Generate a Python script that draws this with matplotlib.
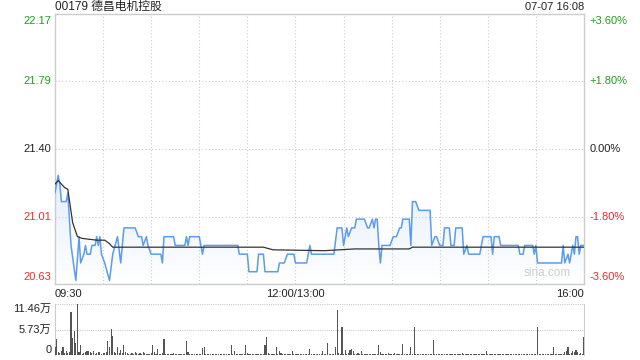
import matplotlib
matplotlib.use('Agg')
import matplotlib.pyplot as plt
import matplotlib.transforms as mtrans
from matplotlib.colors import LinearSegmentedColormap
import numpy as np

plt.rcParams['font.family'] = ['Liberation Sans', 'Noto Sans CJK SC']

# data (minutes since 09:30, lunch break removed)
title = '00179 德昌电机控股'
stamp = '07-07 16:08'
prev_close = 21.40
price_ticks = [20.63, 21.01, 21.40, 21.79, 22.17]
pct_labels = ['-3.60%', '-1.80%', '0.00%', '+1.80%', '+3.60%']
time_labels = ['09:30', '12:00/13:00', '16:00']
time_pos = [0, 150, 330]

price_min = [0, 2, 3, 4, 7, 8, 10, 13, 15, 16, 18, 19, 20, 22, 23, 25, 26, 27, 28, 29,
             31, 34, 36, 39, 41, 43, 50, 52, 54, 55, 57, 58, 60, 66, 67, 68, 74, 75, 81, 82,
             83, 84, 90, 91, 92, 93, 114, 115, 120, 121, 126, 127, 130, 131, 139, 140, 143, 145, 149, 150,
             157, 159, 160, 174, 176, 179, 180, 182, 183, 185, 187, 188, 193, 195, 196, 198, 199, 200, 201, 202,
             203, 204, 209, 211, 213, 215, 216, 217, 221, 222, 223, 225, 227, 234, 235, 237, 238, 240, 242, 243,
             246, 247, 249, 250, 254, 255, 257, 258, 265, 267, 272, 273, 274, 277, 278, 289, 290, 292, 293, 298,
             299, 300, 301, 316, 317, 318, 320, 321, 322, 323, 324, 325, 326, 327, 328, 330]
price_val = [21.15, 21.25, 21.20, 21.10, 21.10, 21.15, 20.85, 20.65, 20.90, 20.75, 20.80, 20.85, 20.80, 20.80, 20.85, 20.85, 20.90, 20.85, 20.90, 20.80,
             20.75, 20.65, 20.80, 20.90, 20.75, 20.95, 20.95, 20.90, 20.90, 20.85, 20.90, 20.85, 20.80, 20.80, 20.75, 20.90, 20.90, 20.85, 20.85, 20.90,
             20.85, 20.90, 20.90, 20.85, 20.80, 20.85, 20.85, 20.80, 20.80, 20.70, 20.70, 20.80, 20.80, 20.70, 20.70, 20.75, 20.75, 20.80, 20.80, 20.75,
             20.75, 20.85, 20.80, 20.80, 20.95, 20.95, 20.85, 20.95, 20.90, 20.95, 20.95, 21.00, 21.00, 20.95, 20.95, 21.00, 20.95, 21.00, 21.00, 20.85,
             20.75, 20.85, 20.85, 20.90, 20.90, 20.95, 20.95, 21.00, 21.00, 20.85, 21.10, 21.10, 21.05, 21.05, 20.85, 20.90, 20.90, 20.85, 20.85, 20.95,
             20.95, 20.85, 20.85, 20.95, 20.95, 20.80, 20.85, 20.80, 20.80, 20.90, 20.90, 20.80, 20.90, 20.90, 20.85, 20.85, 20.80, 20.80, 20.85, 20.85,
             20.80, 20.85, 20.75, 20.75, 20.85, 20.75, 20.80, 20.75, 20.80, 20.85, 20.80, 20.90, 20.90, 20.80, 20.85, 20.85]

avg_min = [0, 2, 4, 6, 8, 11, 14, 17, 26, 31, 34, 36, 130, 136, 168, 187, 221, 223, 330]
avg_val = [21.20, 21.22, 21.20, 21.18, 21.17, 20.98, 20.90, 20.89, 20.88, 20.88, 20.86, 20.84, 20.84, 20.825, 20.82, 20.83, 20.83, 20.84, 20.84]

# volume per minute, in 万 shares
volume = [1.8, 3.5, 0.6, 0.4, 0.8, 1.9, 0.5, 1.0, 0.4, 0.7, 9.7, 3.9, 5.5, 2.7, 11.46, 0.6, 2.2, 0.3, 0.4, 0.6,
          0.8, 0.8, 0.6, 0.5, 1.0, 0.3, 0.4, 0.6, 0.6, 0.3, 0.5, 0.4, 0.6, 3.1, 1.9, 5.8, 4.3, 0.6, 0.4, 1.9,
          0.5, 1.2, 0.4, 2.2, 0.6, 0.4, 0.3, 0.3, 0.4, 0.3, 0.6, 0.4, 0.3, 0.4, 0.2, 0.6, 0.4, 0.3, 0.2, 0.3,
          0.4, 2.2, 0.6, 0.3, 1.4, 0.3, 0.2, 0.4, 3.7, 0.3, 0.2, 0.3, 0.2, 0.2, 0.4, 0.2, 0.3, 0.2, 0.2, 0.3,
          0.2, 0.3, 3.1, 0.6, 0.3, 0.2, 0.2, 0.3, 0.2, 0.2, 0.2, 0.3, 1.6, 1.8, 0.3, 0.2, 0.2, 0.2, 0.3, 0.2,
          0.2, 0.2, 0.3, 0.2, 0.2, 0.2, 0.3, 0.2, 0.2, 0.2, 2.3, 0.2, 1.0, 0.3, 0.2, 0.2, 0.2, 0.3, 0.2, 2.2,
          0.5, 0.2, 0.2, 0.2, 0.3, 0.2, 0.2, 0.2, 0.2, 0.3, 0.2, 2.2, 4.0, 0.5, 0.3, 0.2, 0.3, 0.2, 1.9, 0.3,
          1.0, 0.4, 0.3, 0.2, 0.2, 0.2, 0.3, 0.2, 0.8, 0.2, 0.2, 0.2, 0.2, 0.3, 0.2, 0.2, 0.2, 0.3, 0.2, 1.4,
          0.2, 0.2, 0.2, 0.3, 0.2, 0.2, 0.3, 1.0, 0.2, 0.3, 2.7, 0.2, 0.3, 0.2, 0.3, 1.8, 10.0, 0.5, 0.3, 6.4,
          0.3, 1.2, 0.2, 0.4, 1.2, 1.3, 0.8, 0.3, 0.2, 0.5, 0.2, 1.0, 0.2, 0.2, 0.3, 0.2, 0.2, 0.2, 0.3, 0.2,
          0.2, 0.3, 2.2, 0.6, 0.2, 0.2, 0.3, 0.2, 0.4, 0.2, 0.3, 0.2, 0.5, 0.2, 0.3, 0.2, 0.2, 2.4, 0.3, 0.2,
          0.2, 0.3, 1.9, 0.3, 6.2, 0.2, 0.2, 0.2, 0.2, 0.2, 0.3, 0.2, 0.2, 0.2, 0.2, 0.3, 3.3, 0.2, 0.2, 0.2,
          0.2, 0.2, 0.2, 0.3, 0.2, 0.2, 0.2, 0.2, 0.2, 0.3, 0.2, 0.2, 0.2, 0.2, 0.4, 0.2, 0.2, 0.2, 0.2, 0.2,
          0.2, 0.3, 0.2, 0.2, 0.2, 0.2, 0.2, 0.3, 0.2, 0.8, 0.2, 0.2, 0.2, 0.2, 0.2, 0.3, 0.2, 0.2, 0.2, 0.2,
          0.2, 0.2, 0.3, 0.2, 0.2, 0.2, 0.2, 0.2, 0.3, 0.2, 0.2, 0.2, 0.2, 0.2, 0.3, 0.2, 0.2, 0.2, 0.2, 0.2,
          0.3, 6.2, 0.2, 0.2, 0.2, 0.2, 0.3, 0.2, 0.2, 0.3, 0.2, 1.9, 0.3, 0.2, 0.2, 0.2, 0.3, 0.2, 0.6, 1.0,
          1.9, 0.3, 0.5, 1.0, 0.6, 1.2, 0.6, 0.3, 0.4, 0.3, 4.0]
vol_ticks = [0, 5.73, 11.46]
vol_labels = ['0', '5.73万', '11.46万']

green = '#1e9e1e'
red = '#ee2a2a'
grid_c = '#cccccc'
fs = 8

fig = plt.figure(figsize=(6.4, 3.6), dpi=100)
ax = fig.add_axes([55 / 640, 76 / 360, 529 / 640, 270 / 360])

# faint blue gradient under the price line
fill = ax.fill_between(price_min, price_val, price_ticks[0], color='none', lw=0)
cmap = LinearSegmentedColormap.from_list('fade', ['#ffffff', '#e4eefc'])
grad = np.linspace(1, 0, 256).reshape(-1, 1)
img = ax.imshow(grad, extent=[0, 330, price_ticks[0], max(price_val)], aspect='auto',
                cmap=cmap, origin='upper', zorder=1)
img.set_clip_path(fill.get_paths()[0], transform=ax.transData)

ax.plot(price_min, price_val, color='#5b9bf0', lw=1.1, zorder=3)
ax.plot(avg_min, avg_val, color='#333333', lw=0.9, zorder=4)

ax.set_xlim(0, 330)
ax.set_ylim(price_ticks[0], price_ticks[-1])
ax.set_xticks(range(30, 330, 30))
ax.set_yticks(price_ticks[1:-1])
ax.grid(True, color=grid_c, ls=(0, (1, 2)), lw=0.8)
ax.tick_params(length=0, labelleft=False, labelbottom=False)
for s in ax.spines.values():
    s.set_color(grid_c)
    s.set_linewidth(1)

trans = mtrans.blended_transform_factory(ax.transAxes, ax.transData)
for i, (v, p) in enumerate(zip(price_ticks, pct_labels)):
    c = green if v > prev_close else (red if v < prev_close else '#222222')
    va = 'top' if i == len(price_ticks) - 1 else ('bottom' if i == 0 else 'center')
    off = -1.5 if va == 'top' else (1.5 if va == 'bottom' else 0)
    tr = trans + mtrans.ScaledTranslation(0, off / 72, fig.dpi_scale_trans)
    ax.text(-0.007, v, f'{v:.2f}', transform=tr, ha='right', va=va, color=c, fontsize=fs)
    ax.text(1.011, v, p, transform=tr, ha='left', va=va, color=c, fontsize=fs)

for lab, m in zip(time_labels, time_pos):
    ha = 'left' if m == 0 else ('right' if m == 330 else 'center')
    ax.text(m, -0.018, lab, transform=mtrans.blended_transform_factory(ax.transData, ax.transAxes),
            ha=ha, va='top', color='#222222', fontsize=fs)

ax.text(0.975, 0.02, 'sina.com', transform=ax.transAxes, ha='right', va='bottom',
        color='#cfcfcf', fontsize=8.5, zorder=5)

fig.text(55 / 640, 1 - 7 / 360, title, ha='left', va='center', fontsize=8.5, color='#222222')
fig.text(584 / 640, 1 - 7 / 360, stamp, ha='right', va='center', fontsize=fs, color='#222222')

# volume panel
vax = fig.add_axes([55 / 640, 5 / 360, 529 / 640, 51 / 360])
vax.bar(np.arange(len(volume)), volume, width=0.7, color='#555555', zorder=3)
vax.set_xlim(0, 330)
vax.set_ylim(0, vol_ticks[-1])
vax.set_xticks([])
vax.set_yticks(vol_ticks[1:])
vax.grid(True, axis='y', color=grid_c, ls=(0, (1, 1)), lw=0.8)
vax.tick_params(length=0, labelleft=False)
vax.spines['top'].set_visible(False)
vax.spines['bottom'].set_visible(False)
vax.spines['left'].set_color(grid_c)
vax.spines['right'].set_color(grid_c)
for v, lab in zip(vol_ticks, vol_labels):
    va = 'top' if v == vol_ticks[-1] else ('bottom' if v == 0 else 'center')
    vax.text(-0.007, v, lab, transform=mtrans.blended_transform_factory(vax.transAxes, vax.transData),
             ha='right', va=va, color='#222222', fontsize=fs)

fig.savefig('out.png', dpi=100)
